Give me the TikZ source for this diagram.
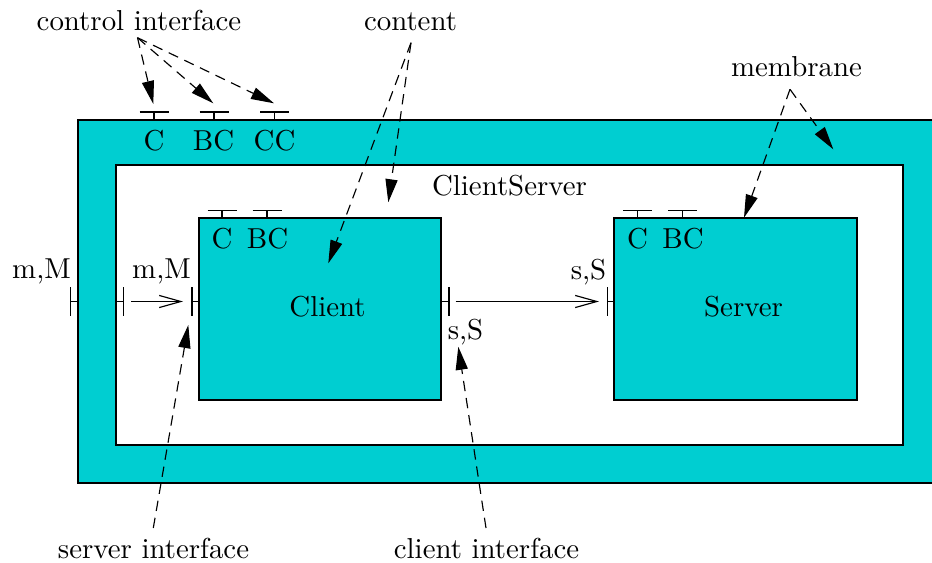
\documentclass[tikz,border=0pt]{standalone}
\usetikzlibrary{arrows.meta}
\definecolor{memb}{RGB}{0,206,209}
\tikzset{
  lbl/.style={inner sep=0pt, anchor=base},
  box/.style={draw=black, fill=memb},
  dasharrow/.style={dash pattern=on 3.6pt off 2.4pt, -{Triangle[length=8pt,width=4.2pt]}},
  binding/.style={-{Straight Barb[length=7.5pt,width=4.2pt]}},
  port/.style={draw=black}
}
\begin{document}
\begin{tikzpicture}[x=0.3466pt,y=-0.3466pt]
\useasboundingbox (0,0) rectangle (932,563);
% membrane (outer box, clipped at right edge)
\begin{scope}
\clip (0,0) rectangle (932,563);
\path[box] (78,120) rectangle (960,483);
\end{scope}
% content area
\path[draw=black, fill=white] (116,165) rectangle (903,445);
% client and server
\path[box] (199,218) rectangle (441,400);
\path[box] (614,218) rectangle (857,400);

% control interfaces on membrane
\foreach \x in {154,214,274.5}{
  \draw (\x,120) -- (\x,112) (\x-14.5,112) -- (\x+14.5,112);
}
% control interfaces on client / server
\foreach \x in {222,267,637.7,682.7}{
  \draw (\x,218) -- (\x,210.7) (\x-14.5,210.7) -- (\x+14.5,210.7);
}
% side ports
\draw (78,301.5) -- (70.7,301.5) (70.7,287) -- (70.7,316);
\draw (116,301.5) -- (123.7,301.5) (123.7,287) -- (123.7,316);
\draw (199,301.5) -- (192,301.5) (192,287) -- (192,316);
\draw (441,301.5) -- (449,301.5) (449,287) -- (449,316);
\draw (614,301.5) -- (607.7,301.5) (607.7,287) -- (607.7,316);

% binding arrows
\coordinate (b1s) at (131,301.5);
\coordinate (b1e) at (183,301.5);
\coordinate (b2s) at (455.7,301.5);
\coordinate (b2e) at (599,301.5);
\draw[binding] (b1s) -- (b1e);
\draw[binding] (b2s) -- (b2e);

% texts
\node[lbl] (tC) at (154,150) {C};
\node[lbl] (tBC) at (213.5,150) {BC};
\node[lbl] (tCC) at (274.5,150) {CC};
\node[lbl] (cC) at (222,248) {C};
\node[lbl] (cBC) at (267.5,248) {BC};
\node[lbl] (sC) at (637.6,248) {C};
\node[lbl] (sBC) at (683,248) {BC};
\node[lbl] (cs) at (509.5,195) {ClientServer};
\node[lbl] (client) at (327.5,316) {Client};
\node[lbl] (server) at (743.5,316) {Server};
\node[lbl] (mM1) at (41.5,278) {m,M};
\node[lbl] (mM2) at (161.5,278) {m,M};
\node[lbl] (sS1) at (465.5,339) {s,S};
\node[lbl] (sS2) at (588.5,279) {s,S};

\node[lbl] (ctrl) at (139,30.5) {control interface};
\node[lbl] (content) at (410.5,30.5) {content};
\node[lbl] (membrane) at (796.5,76) {membrane};
\node[lbl] (srvif) at (153.5,558) {server interface};
\node[lbl] (cliif) at (486.5,558) {client interface};

% dashed pointer arrows
\coordinate (ctrlS) at (137.5,37.7);
\coordinate (ctrlT1) at (153.3,104);
\coordinate (ctrlT2) at (213.3,103.3);
\coordinate (ctrlT3) at (274,103.3);
\draw[dasharrow] (ctrlS) -- (ctrlT1);
\draw[dasharrow] (ctrlS) -- (ctrlT2);
\draw[dasharrow] (ctrlS) -- (ctrlT3);

\coordinate (contS) at (411,42.7);
\coordinate (contT1) at (328.3,263.3);
\coordinate (contT2) at (388.3,202.3);
\draw[dasharrow] (contS) -- (contT1);
\draw[dasharrow] (contS) -- (contT2);

\coordinate (membS) at (790,89.3);
\coordinate (membT1) at (833.3,149.3);
\coordinate (membT2) at (744,217.7);
\draw[dasharrow] (membS) -- (membT1);
\draw[dasharrow] (membS) -- (membT2);

\coordinate (srvS) at (153.3,528);
\coordinate (srvT) at (188.3,325);
\draw[dasharrow] (srvS) -- (srvT);

\coordinate (cliS) at (486,528);
\coordinate (cliT) at (458.3,346.7);
\draw[dasharrow] (cliS) -- (cliT);
\end{tikzpicture}
\end{document}
